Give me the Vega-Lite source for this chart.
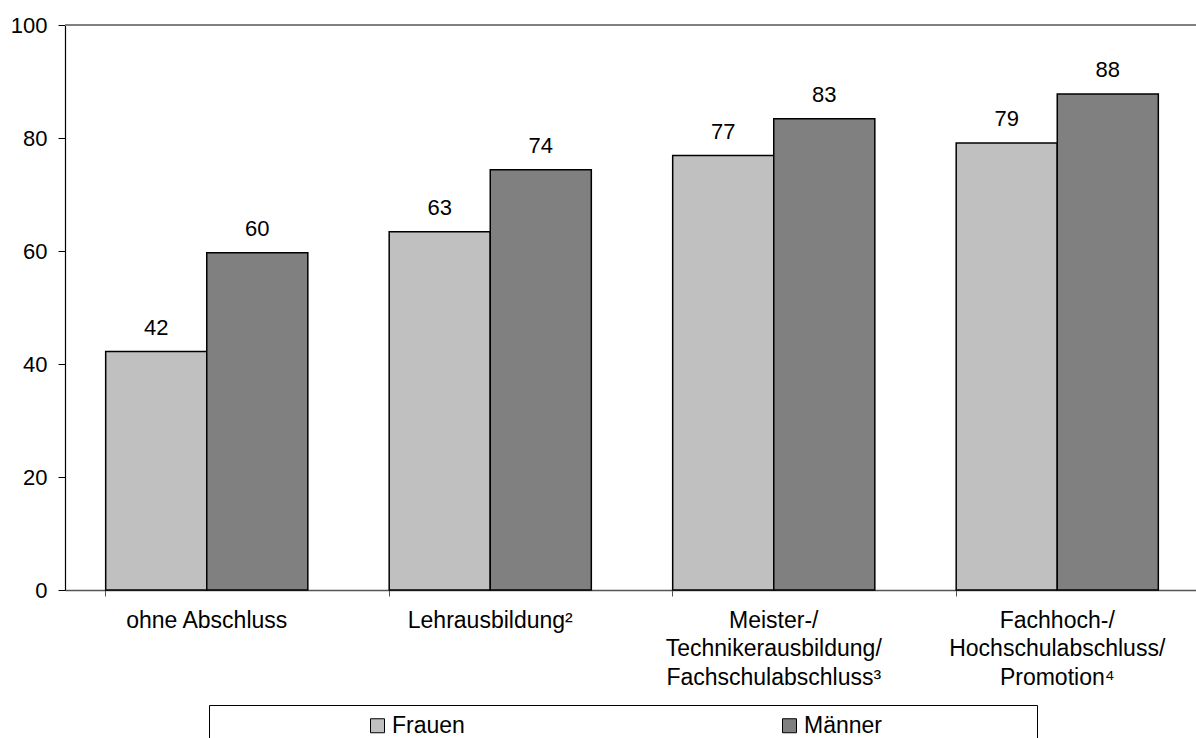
{
  "$schema": "https://vega.github.io/schema/vega-lite/v6.json",
  "autosize": {"type": "none"},
  "padding": {"left": 65, "top": 25, "right": 0, "bottom": 148},
  "width": 1134,
  "height": 565,
  "background": "white",
  "config": {
    "font": "Liberation Sans",
    "view": {"stroke": null}
  },
  "data": {
    "values": [
      {"cat": "ohne Abschluss", "sex": "Frauen", "value": 42.2},
      {"cat": "ohne Abschluss", "sex": "Männer", "value": 59.7},
      {"cat": "Lehrausbildung²", "sex": "Frauen", "value": 63.4},
      {"cat": "Lehrausbildung²", "sex": "Männer", "value": 74.4},
      {"cat": "Meister-/|Technikerausbildung/|Fachschulabschluss³", "sex": "Frauen", "value": 76.9},
      {"cat": "Meister-/|Technikerausbildung/|Fachschulabschluss³", "sex": "Männer", "value": 83.4},
      {"cat": "Fachhoch-/|Hochschulabschluss/|Promotion⁴", "sex": "Frauen", "value": 79.1},
      {"cat": "Fachhoch-/|Hochschulabschluss/|Promotion⁴", "sex": "Männer", "value": 87.8}
    ]
  },
  "layer": [
    {
      "mark": {"type": "rule", "color": "#808080", "strokeWidth": 1.5},
      "encoding": {"y": {"datum": 100, "type": "quantitative"}}
    },
    {
      "mark": {"type": "bar", "stroke": "black", "strokeWidth": 1.5},
      "encoding": {
        "x": {
          "field": "cat", "type": "nominal", "sort": null,
          "scale": {"paddingInner": 0.287, "paddingOuter": 0.1435},
          "axis": {
            "title": null, "labelAngle": 0, "bandPosition": 0,
            "labelExpr": "split(datum.label, '|')",
            "labelLimit": 0, "labelLineHeight": 28.5, "labelPadding": 13,
            "labelFontSize": 23, "labelColor": "black", "labelFont": "Liberation Sans",
            "tickSize": 6, "tickColor": "#555555", "domainColor": "#555555", "domainWidth": 1.5,
            "labelBaseline": "top"
          }
        },
        "xOffset": {"field": "sex", "type": "nominal", "scale": {"paddingInner": 0, "paddingOuter": 0}},
        "y": {
          "field": "value", "type": "quantitative",
          "scale": {"domain": [0, 100], "nice": false},
          "axis": {
            "title": null, "values": [0, 20, 40, 60, 80, 100], "grid": false,
            "labelFontSize": 22, "labelColor": "black", "labelFont": "Liberation Sans",
            "tickSize": 7, "labelPadding": 11, "domainColor": "black", "tickColor": "black", "domainWidth": 1.2
          }
        },
        "color": {
          "field": "sex", "type": "nominal",
          "scale": {"domain": ["Frauen", "Männer"], "range": ["#c0c0c0", "#808080"]},
          "legend": {
            "title": "x", "titleOrient": "right", "titleColor": "white", "titleFontSize": 10,
            "titlePadding": 140,
            "orient": "none", "legendX": 144, "legendY": 680,
            "direction": "horizontal", "columns": 2,
            "fillColor": "white", "strokeColor": "black", "padding": 9,
            "symbolType": "square", "symbolSize": 196, "symbolStrokeColor": "black",
            "symbolStrokeWidth": 1, "symbolOpacity": 1, "symbolOffset": 148,
            "labelFontSize": 23, "labelColor": "black", "labelOffset": 3, "labelFont": "Liberation Sans",
            "columnPadding": 165
          }
        }
      }
    },
    {
      "mark": {"type": "text", "fontSize": 22, "baseline": "alphabetic", "dy": -17, "color": "black"},
      "encoding": {
        "x": {"field": "cat", "type": "nominal", "sort": null},
        "xOffset": {"field": "sex", "type": "nominal"},
        "y": {"field": "value", "type": "quantitative"},
        "text": {"field": "value", "type": "quantitative", "format": ".0f"}
      }
    }
  ]
}
